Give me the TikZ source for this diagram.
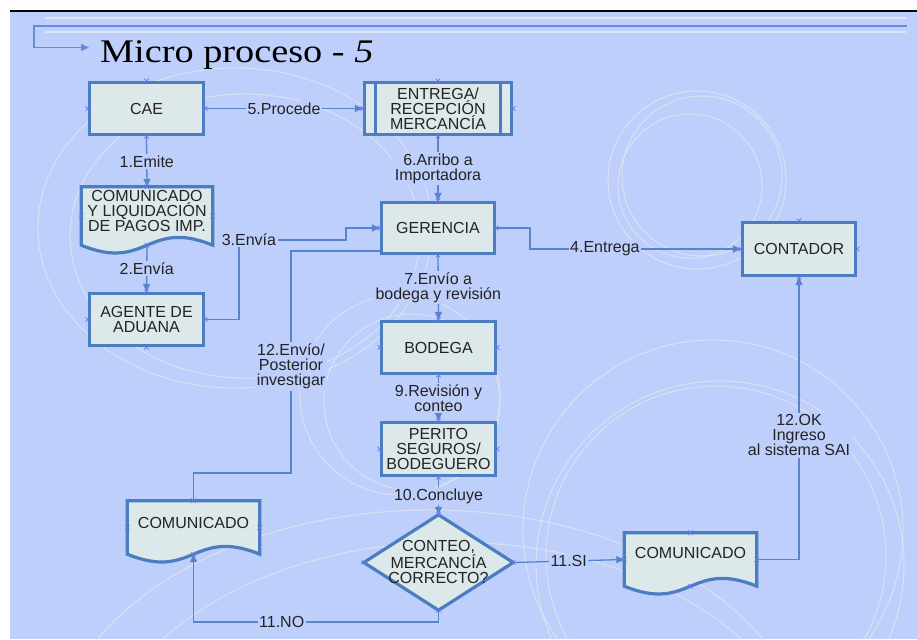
\documentclass[tikz,border=0pt]{standalone}
\usepackage{fontspec}
\usepackage{graphicx}
\setmainfont{Liberation Sans}
\newfontfamily\titlefont{Liberation Serif}
\usetikzlibrary{arrows.meta,calc,shapes.misc}
\definecolor{bgblue}{RGB}{191,207,251}
\definecolor{boxfill}{RGB}{221,232,234}
\definecolor{boxline}{RGB}{74,126,193}
\definecolor{connblue}{RGB}{88,132,206}
\definecolor{bracketblue}{RGB}{100,140,215}
\definecolor{cpmark}{RGB}{110,110,240}
\definecolor{decocol}{RGB}{228,233,238}
\definecolor{stripecol}{RGB}{222,230,246}
\definecolor{textgray}{RGB}{35,35,35}
\begin{document}
\begin{tikzpicture}[x=1pt,y=-1pt,
  txt/.style={font=\fontsize{16}{15.2}\selectfont, text=textgray, align=center},
  box/.style={txt, shape=rectangle, draw=boxline, line width=3.2pt, fill=boxfill,
    minimum width=114pt, minimum height=52pt, inner sep=0pt},
  holder/.style={shape=rectangle, draw=none, inner sep=0pt},
  shapeline/.style={draw=boxline, line width=3.2pt, fill=boxfill},
  conn/.style={draw=connblue, line width=1.3pt},
  arr/.style={conn, -{Triangle[length=8pt,width=7pt]}},
  lbl/.style={txt, fill=bgblue, inner sep=1.5pt},
  cp/.style={cross out, draw=cpmark, minimum size=4pt, inner sep=0pt, line width=0.6pt},
  decoline/.style={draw=decocol, line width=0.9pt, opacity=0.8}
]
\useasboundingbox (0,0) rectangle (917,639);
\fill[white] (0,0) rectangle (917,639);
\fill[bgblue] (10,11) rectangle (917,639);

% decorative circles
\begin{scope}
\clip (10,12) rectangle (917,639);
\draw[decoline] (697,180) circle[radius=89];
\draw[decoline] (690,186) circle[radius=72];
\draw[decoline] (702,176) circle[radius=80];
\draw[decoline] (713,530) circle[radius=190];
\draw[decoline] (716,556) circle[radius=170];
\draw[decoline] (720,565) circle[radius=184];
\draw[decoline] (235,228) ellipse[x radius=197, y radius=160];
\draw[decoline] (245,236) ellipse[x radius=175, y radius=142];
\draw[decoline] (400,395) circle[radius=100];
\draw[decoline] (412,402) circle[radius=88];
\draw[decoline] (430,760) ellipse[x radius=380, y radius=250];
\draw[decoline] (452,782) ellipse[x radius=360, y radius=240];
\end{scope}

\draw[black, line width=1.3pt] (10,11) -- (917,11);
\draw[stripecol, line width=2.8pt] (45,18) -- (906,18);
\draw[stripecol, line width=2.8pt] (45,32) -- (906,32);
\coordinate (brStart) at (907,26);
\coordinate (brEnd) at (89,47.5);
\draw[bracketblue, line width=1.4pt, -{Triangle[length=8pt,width=7pt]}]
  (brStart) -- (34,26) -- (34,47.5) -- (brEnd);

\node[anchor=base west, inner sep=0pt] (title) at (100,63)
  {\scalebox{1.16}[1]{\titlefont\fontsize{33}{36}\selectfont Micro proceso - \textit{5}}};

% boxes
\node[box] (cae) at (146.5,108.5) {CAE};
\node[box, minimum width=147pt] (ent) at (438,108.5) {ENTREGA/\\RECEPCIÓN\\MERCANCÍA};
\draw[boxline, line width=3pt] ($(ent.north west)+(13,0)$) -- ($(ent.south west)+(13,0)$);
\draw[boxline, line width=3pt] ($(ent.north east)+(-13,0)$) -- ($(ent.south east)+(-13,0)$);
\node[box] (age) at (146.5,319.5) {AGENTE DE\\ADUANA};
\node[box, minimum width=113pt, minimum height=51pt] (ger) at (438,228) {GERENCIA};
\node[box, minimum width=113pt, minimum height=53pt] (con) at (799,249) {CONTADOR};
\node[box] (bod) at (438.5,347.5) {BODEGA};
\node[box, minimum height=53pt] (per) at (438.5,449) {PERITO\\SEGUROS/\\BODEGUERO};

% document shapes
\newcommand\docshape[1]{%
  \path[shapeline] (#1.north west) -- (#1.north east) -- (#1.south east)
    .. controls ($(#1.south)+(0,-27)$) and ($(#1.south)+(0,27)$) .. (#1.south west) -- cycle;}
\node[holder, minimum width=131pt, minimum height=58pt] (c1) at (147,216) {};
\docshape{c1}
\node[txt] (c1t) at (147,211) {COMUNICADO\\Y LIQUIDACIÓN\\DE PAGOS IMP.};

\node[holder, minimum width=132pt, minimum height=53pt] (c2) at (193.5,527.5) {};
\docshape{c2}
\node[txt] (c2t) at (193.5,523) {COMUNICADO};

\node[holder, minimum width=132pt, minimum height=53pt] (c3) at (690.5,559.5) {};
\docshape{c3}
\node[txt] (c3t) at (690.5,553) {COMUNICADO};

% decision
\node[holder, minimum width=149pt, minimum height=95pt] (d) at (438.5,562.5) {};
\path[shapeline] (d.north) -- (d.east) -- (d.south) -- (d.west) -- cycle;
\node[txt] (dt) at (438.5,562) {CONTEO,\\MERCANCÍA\\CORRECTO?};

% connectors
\draw[arr] (cae.east) -- node[lbl] {5.Procede} (ent.west);
\draw[arr] (cae.south) -- node[lbl] {1.Emite} (c1.north);
\draw[arr] (ent.south) -- node[lbl] {6.Arribo a\\Importadora} (ger.north);
\draw[arr] (c1.south) -- node[lbl] {2.Envía} (age.north);

\coordinate (k3a) at (239,240);
\coordinate (k3b) at (346,240);
\draw[arr] (age.east) -| (k3a) -- node[lbl, pos=0.093] {3.Envía} (k3b) |- (ger.west);

\coordinate (k4) at (530,249);
\draw[arr] (ger.east) -| (k4) -- node[lbl, pos=0.355] {4.Entrega} (con.west);

\draw[arr] (ger.south) -- node[lbl] {7.Envío a\\bodega y revisión} (bod.north);
\draw[arr] (bod.south) -- node[lbl] {9.Revisión y\\conteo} (per.north);
\draw[arr] (per.south) -- node[lbl] {10.Concluye} (d.north);
\draw[arr] (d.east) -- node[lbl] {11.SI} (c3.west);

\coordinate (k11) at (438.5,622);
\draw[arr] (d.south) -- (k11) -| node[lbl, pos=0.32] {11.NO} (c2.south);

\coordinate (k12a) at (291,473);
\coordinate (k12b) at (291,251);
\coordinate (k12c) at (380,251);
\draw[conn] (c2.north) |- (k12a) -- node[lbl, pos=0.48] {12.Envío/\\Posterior\\investigar} (k12b) -- (k12c);

\draw[arr] (c3.east) -| node[lbl, pos=0.72] {12.OK\\Ingreso\\al sistema SAI} (con.south);

% connection point markers
\foreach \n in {cae,ent,age,ger,con,bod,per,d,c1,c2,c3}{
  \foreach \a in {north,south,east,west}{
    \node[cp] at (\n.\a) {};
  }
}
\end{tikzpicture}
\end{document}
